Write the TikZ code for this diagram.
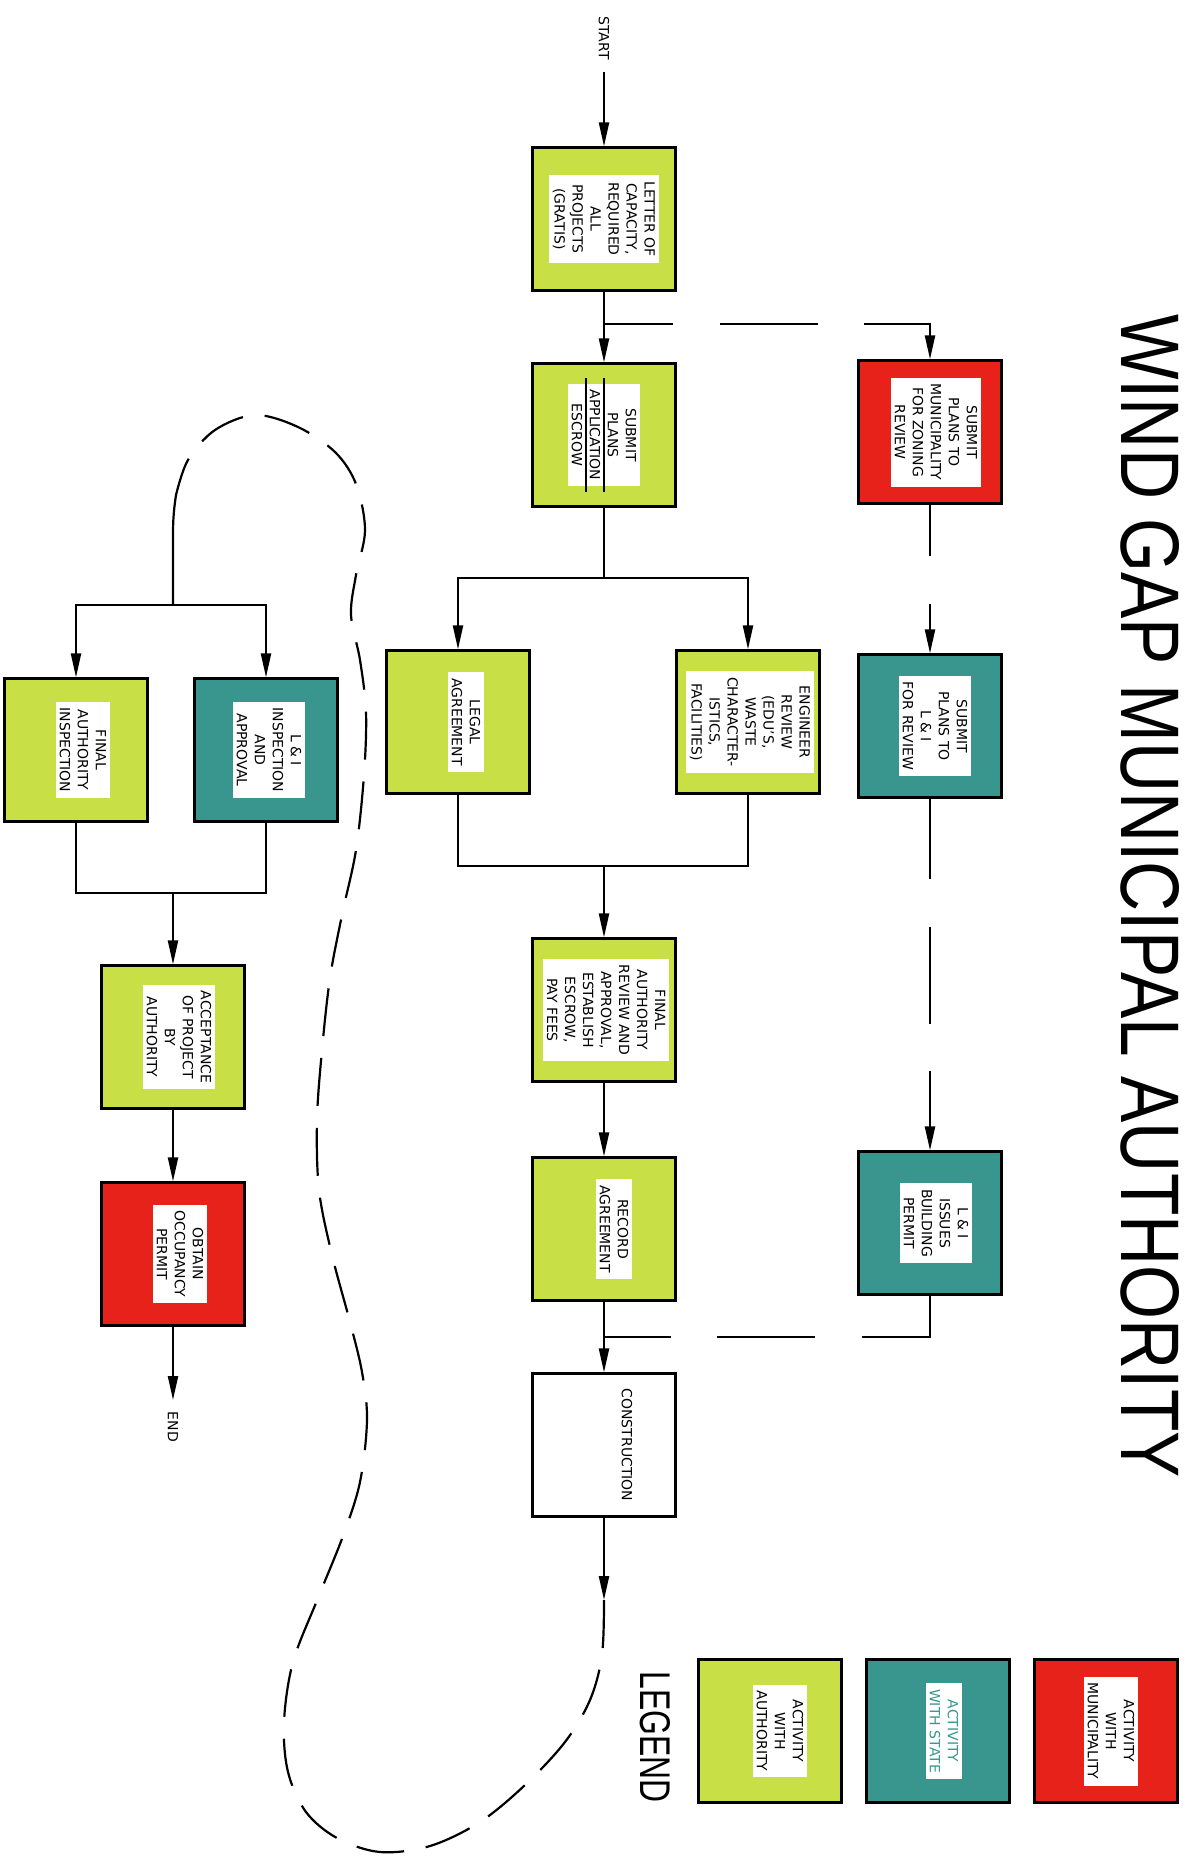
\documentclass[tikz,border=0pt]{standalone}
\usepackage{fontspec}
\setmainfont{DejaVu Sans}
\newfontfamily\titlefont{Liberation Sans}
\usetikzlibrary{arrows.meta}
\definecolor{agreen}{RGB}{200,224,70}
\definecolor{ateal}{RGB}{56,150,143}
\definecolor{ared}{RGB}{230,34,26}
\begin{document}
\begin{tikzpicture}[x=1pt,y=-1pt,
  box/.style={draw=black, line width=2.2pt, minimum width=143pt, minimum height=143pt, inner sep=0pt},
  gbox/.style={box, fill=agreen},
  tbox/.style={box, fill=ateal},
  rbox/.style={box, fill=ared},
  wbox/.style={box, fill=white},
  lbl/.style={fill=white, rotate=-90, align=center, inner xsep=6pt, inner ysep=4pt, font=\fontsize{14}{18}\selectfont},
  plaintext/.style={rotate=-90, align=center, inner sep=0pt, font=\fontsize{14}{18}\selectfont},
  conn/.style={line width=2.2pt, draw=black},
  arr/.style={conn, -{Triangle[length=24pt,width=10pt]}},
  loopline/.style={conn, dash pattern=on 48pt off 22pt},
  rule/.style={line width=1.6pt, draw=black}
]
\useasboundingbox (0,0) rectangle (1186,1858);
\fill[white] (0,0) rectangle (1186,1858);

% title and legend heading
\node[rotate=-90, inner sep=0pt] (title) at (1150,896) {\titlefont\resizebox{1163pt}{58pt}{WIND GAP MUNICIPAL AUTHORITY}};
\node[rotate=-90, inner sep=0pt] (legendhead) at (655,1737) {\titlefont\resizebox{131pt}{30pt}{LEGEND}};

% boxes
\node[gbox] (letter) at (604,219) {};
\node[gbox] (submit) at (604,435) {};
\node[rbox] (zoning) at (930,432) {};
\node[gbox] (legal) at (458,722) {};
\node[gbox] (engineer) at (748,722) {};
\node[tbox] (submitLI) at (930,726) {};
\node[gbox] (finalreview) at (604,1010) {};
\node[gbox] (record) at (604,1229) {};
\node[tbox] (issues) at (930,1223) {};
\node[wbox] (construction) at (604,1445) {};
\node[gbox] (finalinsp) at (76,750) {};
\node[tbox] (liinsp) at (266,750) {};
\node[gbox] (acceptance) at (173,1037) {};
\node[rbox] (occupancy) at (173,1254) {};
\node[gbox] (legA) at (770,1731) {};
\node[tbox] (legS) at (938,1731) {};
\node[rbox] (legM) at (1106,1731) {};

% labels
\node[lbl] (letterT) at (letter.center) {LETTER OF\\CAPACITY,\\REQUIRED\\ALL\\PROJECTS\\(GRATIS)};
\node[lbl] (submitT) at (submit.center) {SUBMIT\\PLANS\\APPLICATION\\ESCROW};
\draw[rule] ([yshift=57pt]submitT.center) -- ([yshift=-57pt]submitT.center);
\draw[rule] ([xshift=-18pt,yshift=57pt]submitT.center) -- ([xshift=-18pt,yshift=-57pt]submitT.center);
\node[lbl] (zoningT) at ([xshift=6pt]zoning.center) {SUBMIT\\PLANS TO\\MUNICIPALITY\\FOR ZONING\\REVIEW};
\node[lbl] (legalT) at ([xshift=8pt]legal.center) {LEGAL\\AGREEMENT};
\node[lbl] (engineerT) at ([xshift=2pt]engineer.center) {ENGINEER\\REVIEW\\(EDU'S,\\WASTE\\CHARACTER-\\ISTICS,\\FACILITIES)};
\node[lbl] (submitLIT) at ([xshift=5pt]submitLI.center) {SUBMIT\\PLANS TO\\L \& I\\FOR REVIEW};
\node[lbl] (finalreviewT) at ([xshift=2pt]finalreview.center) {FINAL\\AUTHORITY\\REVIEW AND\\APPROVAL,\\ESTABLISH\\ESCROW,\\PAY FEES};
\node[lbl] (recordT) at ([xshift=10pt]record.center) {RECORD\\AGREEMENT};
\node[lbl] (issuesT) at ([xshift=6pt]issues.center) {L \& I\\ISSUES\\BUILDING\\PERMIT};
\node[plaintext] (constructionT) at ([xshift=23pt]construction.center) {CONSTRUCTION};
\node[lbl] (finalinspT) at ([xshift=7pt]finalinsp.center) {FINAL\\AUTHORITY\\INSPECTION};
\node[lbl] (liinspT) at ([xshift=3pt]liinsp.center) {L \& I\\INSPECTION\\AND\\APPROVAL};
\node[lbl] (acceptanceT) at ([xshift=6pt]acceptance.center) {ACCEPTANCE\\OF PROJECT\\BY\\AUTHORITY};
\node[lbl] (occupancyT) at ([xshift=7pt]occupancy.center) {OBTAIN\\OCCUPANCY\\PERMIT};
\node[lbl] (legAT) at ([xshift=10pt]legA.center) {ACTIVITY\\WITH\\AUTHORITY};
\node[lbl, text=ateal] (legST) at ([xshift=6pt]legS.center) {ACTIVITY\\WITH STATE};
\node[lbl] (legMT) at ([xshift=5pt]legM.center) {ACTIVITY\\WITH\\MUNICIPALITY};

% start / end
\node[plaintext] (start) at (604,38) {START};
\coordinate (startpt) at (604,72);
\coordinate (endpt) at (173,1400);
\node[plaintext] (endT) at (173,1427) {END};

% junction coordinates
\coordinate (b1) at (604,324);
\coordinate (s1) at (604,578);
\coordinate (j1) at (604,866);
\coordinate (j2) at (604,1337);
\coordinate (lp) at (604,1600);
\coordinate (loopend) at (176,495);
\coordinate (s2) at (173,605);
\coordinate (j3) at (173,893);

% main column
\draw[arr] (startpt) -- (letter);
\draw[arr] (letter) -- (submit);
\draw[arr, dash pattern=on 69pt off 47pt on 98pt off 46pt on 400pt] (b1) -| (zoning);
\draw[conn] (submit) -- (s1);
\draw[arr] (s1) -| (legal);
\draw[arr] (s1) -| (engineer);
\draw[conn] (legal) |- (j1);
\draw[conn] (engineer) |- (j1);
\draw[arr] (j1) -- (finalreview);
\draw[arr] (finalreview) -- (record);
\draw[arr] (record) -- (construction);

% right column
\draw[arr, dash pattern=on 51pt off 48pt on 300pt] (zoning) -- (submitLI);
\draw[arr, dash pattern=on 80pt off 48pt on 97pt off 47pt on 300pt] (submitLI) -- (issues);
\draw[conn, dash pattern=on 109pt off 47pt on 98pt off 46pt on 300pt] (issues) |- (j2);

% loop
\draw[arr] (construction) -- (lp);
\draw[loopline] plot[smooth, tension=0.55] coordinates {(604,1600) (602,1655) (590,1700) (565,1742) (525,1785) (480,1822) (430,1846) (380,1852) (337,1838) (306,1812) (288,1772) (284,1722) (293,1662) (318,1598) (343,1536) (360,1482) (367,1420) (362,1372) (350,1322) (332,1255) (319,1190) (317,1120) (322,1050) (330,978) (342,915) (356,850) (364,775) (366,712) (360,660) (351,615) (356,575) (365,530) (356,484) (335,452) (298,427) (255,415) (215,430) (188,460) (176,495)};
\draw[conn] (loopend) .. controls (173,515) and (173,525) .. (173,540) -- (s2);

% left column
\draw[arr] (s2) -| (finalinsp);
\draw[arr] (s2) -| (liinsp);
\draw[conn] (finalinsp) |- (j3);
\draw[conn] (liinsp) |- (j3);
\draw[arr] (j3) -- (acceptance);
\draw[arr] (acceptance) -- (occupancy);
\draw[arr] (occupancy) -- (endpt);
\end{tikzpicture}
\end{document}
